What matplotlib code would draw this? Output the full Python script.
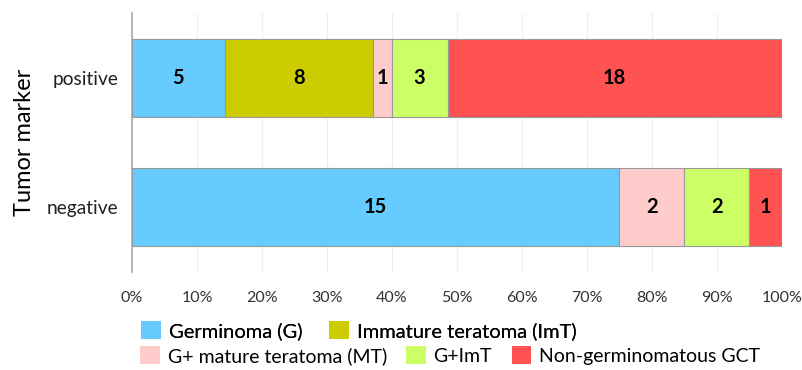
import matplotlib.pyplot as plt
import numpy as np
from matplotlib.patches import Patch

plt.rcParams['font.family'] = ['Lato', 'DejaVu Sans']

groups = ["negative", "positive"]
series = ["Germinoma (G)", "Immature teratoma (ImT)", "G+ mature teratoma (MT)",
          "G+ImT", "Non-germinomatous GCT"]
counts = {
    "Germinoma (G)": [15, 5],
    "Immature teratoma (ImT)": [0, 8],
    "G+ mature teratoma (MT)": [2, 1],
    "G+ImT": [2, 3],
    "Non-germinomatous GCT": [1, 18],
}
colors = ["#66CCFF", "#CCCC00", "#FFCCCC", "#CCFF66", "#FF5252"]

totals = np.array([sum(counts[s][i] for s in series) for i in range(len(groups))])

fig = plt.figure(figsize=(8.02, 3.70), dpi=100)
ax = fig.add_axes([0.1646, 0.265, 0.81, 0.70])

y = np.arange(len(groups))
left = np.zeros(len(groups))
for s, c in zip(series, colors):
    vals = np.array(counts[s], dtype=float)
    pct = vals / totals * 100
    ax.barh(y, pct, left=left, height=0.6, color=c, edgecolor="#999999",
            linewidth=0.8, zorder=3)
    for i, v in enumerate(vals):
        if v > 0:
            ax.text(left[i] + pct[i] / 2, y[i], f"{int(v)}", ha="center",
                    va="center", fontsize=14.5, fontweight="bold", zorder=4)
    left += pct

ax.set_xlim(0, 100)
ax.set_ylim(-0.5, 1.5)
ax.set_xticks(np.arange(0, 101, 10))
ax.set_xticklabels([f"{t}%" for t in range(0, 101, 10)], fontsize=11.5, color="#333333")
ax.set_yticks(y)
ax.set_yticklabels(groups, fontsize=13.8, color="#222222")
ax.tick_params(length=0, pad=10)
ax.tick_params(axis="x", pad=14)
ax.grid(axis="x", color="#EEEEEE", linewidth=0.8, zorder=0)
for sp in ["top", "right", "bottom"]:
    ax.spines[sp].set_visible(False)
ax.spines["left"].set_color("#AAAAAA")
ax.spines["left"].set_linewidth(1.2)
ax.set_ylabel("Tumor marker", fontsize=17, labelpad=8)

handles = [Patch(facecolor=c, edgecolor="none") for c in colors]
leg1 = fig.legend(handles[:2], series[:2], loc="center left",
                  bbox_to_anchor=(0.163, 0.106), ncol=2, frameon=False,
                  fontsize=14.5, handlelength=1.0, handleheight=1.0,
                  handletextpad=0.4, columnspacing=1.3, borderpad=0)
leg2 = fig.legend(handles[2:], series[2:], loc="center left",
                  bbox_to_anchor=(0.163, 0.039), ncol=3, frameon=False,
                  fontsize=14, handlelength=1.0, handleheight=1.0,
                  handletextpad=0.4, columnspacing=1.0, borderpad=0)
fig.add_artist(leg1)

fig.savefig("out.png", dpi=100)
